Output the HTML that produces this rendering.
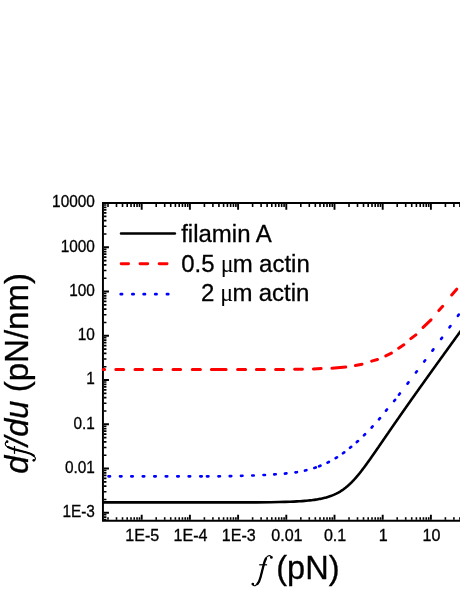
<!DOCTYPE html><html><head><meta charset="utf-8"><style>html,body{margin:0;padding:0;background:#fff}svg{display:block;will-change:transform}text{font-family:"Liberation Sans",sans-serif;fill:#000;stroke:#000;stroke-width:0.3px}.s{font-family:"Liberation Serif",serif;font-style:italic}.i{font-style:italic}</style></head><body>
<svg width="460" height="595" viewBox="0 0 460 595">
<rect width="460" height="595" fill="#fff"/>
<path d="M103.85 519.65h2.60M103.85 517.09h2.60M103.85 514.82h2.60M103.85 499.48h2.60M103.85 491.69h2.60M103.85 486.16h2.60M103.85 481.87h2.60M103.85 478.37h2.60M103.85 475.40h2.60M103.85 472.84h2.60M103.85 470.57h2.60M103.85 455.23h2.60M103.85 447.44h2.60M103.85 441.91h2.60M103.85 437.62h2.60M103.85 434.12h2.60M103.85 431.15h2.60M103.85 428.59h2.60M103.85 426.32h2.60M103.85 410.98h2.60M103.85 403.19h2.60M103.85 397.66h2.60M103.85 393.37h2.60M103.85 389.87h2.60M103.85 386.90h2.60M103.85 384.34h2.60M103.85 382.07h2.60M103.85 366.73h2.60M103.85 358.94h2.60M103.85 353.41h2.60M103.85 349.12h2.60M103.85 345.62h2.60M103.85 342.65h2.60M103.85 340.09h2.60M103.85 337.82h2.60M103.85 322.48h2.60M103.85 314.69h2.60M103.85 309.16h2.60M103.85 304.87h2.60M103.85 301.37h2.60M103.85 298.40h2.60M103.85 295.84h2.60M103.85 293.57h2.60M103.85 278.23h2.60M103.85 270.44h2.60M103.85 264.91h2.60M103.85 260.62h2.60M103.85 257.12h2.60M103.85 254.15h2.60M103.85 251.59h2.60M103.85 249.32h2.60M103.85 233.98h2.60M103.85 226.19h2.60M103.85 220.66h2.60M103.85 216.37h2.60M103.85 212.87h2.60M103.85 209.90h2.60M103.85 207.34h2.60M103.85 205.07h2.60M108.01 203.90v3.20M108.01 519.80v-2.60M116.50 203.90v3.20M116.50 519.80v-2.60M122.52 203.90v3.20M122.52 519.80v-2.60M127.19 203.90v3.20M127.19 519.80v-2.60M131.01 203.90v3.20M131.01 519.80v-2.60M134.23 203.90v3.20M134.23 519.80v-2.60M137.03 203.90v3.20M137.03 519.80v-2.60M139.49 203.90v3.20M139.49 519.80v-2.60M156.21 203.90v3.20M156.21 519.80v-2.60M164.70 203.90v3.20M164.70 519.80v-2.60M170.72 203.90v3.20M170.72 519.80v-2.60M175.39 203.90v3.20M175.39 519.80v-2.60M179.21 203.90v3.20M179.21 519.80v-2.60M182.43 203.90v3.20M182.43 519.80v-2.60M185.23 203.90v3.20M185.23 519.80v-2.60M187.69 203.90v3.20M187.69 519.80v-2.60M204.41 203.90v3.20M204.41 519.80v-2.60M212.90 203.90v3.20M212.90 519.80v-2.60M218.92 203.90v3.20M218.92 519.80v-2.60M223.59 203.90v3.20M223.59 519.80v-2.60M227.41 203.90v3.20M227.41 519.80v-2.60M230.63 203.90v3.20M230.63 519.80v-2.60M233.43 203.90v3.20M233.43 519.80v-2.60M235.89 203.90v3.20M235.89 519.80v-2.60M252.61 203.90v3.20M252.61 519.80v-2.60M261.10 203.90v3.20M261.10 519.80v-2.60M267.12 203.90v3.20M267.12 519.80v-2.60M271.79 203.90v3.20M271.79 519.80v-2.60M275.61 203.90v3.20M275.61 519.80v-2.60M278.83 203.90v3.20M278.83 519.80v-2.60M281.63 203.90v3.20M281.63 519.80v-2.60M284.09 203.90v3.20M284.09 519.80v-2.60M300.81 203.90v3.20M300.81 519.80v-2.60M309.30 203.90v3.20M309.30 519.80v-2.60M315.32 203.90v3.20M315.32 519.80v-2.60M319.99 203.90v3.20M319.99 519.80v-2.60M323.81 203.90v3.20M323.81 519.80v-2.60M327.03 203.90v3.20M327.03 519.80v-2.60M329.83 203.90v3.20M329.83 519.80v-2.60M332.29 203.90v3.20M332.29 519.80v-2.60M349.01 203.90v3.20M349.01 519.80v-2.60M357.50 203.90v3.20M357.50 519.80v-2.60M363.52 203.90v3.20M363.52 519.80v-2.60M368.19 203.90v3.20M368.19 519.80v-2.60M372.01 203.90v3.20M372.01 519.80v-2.60M375.23 203.90v3.20M375.23 519.80v-2.60M378.03 203.90v3.20M378.03 519.80v-2.60M380.49 203.90v3.20M380.49 519.80v-2.60M397.21 203.90v3.20M397.21 519.80v-2.60M405.70 203.90v3.20M405.70 519.80v-2.60M411.72 203.90v3.20M411.72 519.80v-2.60M416.39 203.90v3.20M416.39 519.80v-2.60M420.21 203.90v3.20M420.21 519.80v-2.60M423.43 203.90v3.20M423.43 519.80v-2.60M426.23 203.90v3.20M426.23 519.80v-2.60M428.69 203.90v3.20M428.69 519.80v-2.60M445.41 203.90v3.20M445.41 519.80v-2.60M453.90 203.90v3.20M453.90 519.80v-2.60M459.92 203.90v3.20M459.92 519.80v-2.60M464.59 203.90v3.20M464.59 519.80v-2.60M468.41 203.90v3.20M468.41 519.80v-2.60" stroke="#000" stroke-width="1.6" fill="none"/>
<path d="M103.85 512.80h5.10M103.85 468.55h5.10M103.85 424.30h5.10M103.85 380.05h5.10M103.85 335.80h5.10M103.85 291.55h5.10M103.85 247.30h5.10M103.85 203.05h5.10M141.70 203.90v5.95M141.70 519.80v-5.10M189.90 203.90v5.95M189.90 519.80v-5.10M238.10 203.90v5.95M238.10 519.80v-5.10M286.30 203.90v5.95M286.30 519.80v-5.10M334.50 203.90v5.95M334.50 519.80v-5.10M382.70 203.90v5.95M382.70 519.80v-5.10M430.90 203.90v5.95M430.90 519.80v-5.10" stroke="#000" stroke-width="1.9" fill="none"/>
<path d="M470 203.0H102.95V520.7H470" stroke="#000" stroke-width="1.95" fill="none" stroke-linejoin="miter"/>
<text transform="translate(94.9 207.45) scale(0.945 1)" font-size="16.3" text-anchor="end">10000</text>
<text transform="translate(94.9 251.70) scale(0.945 1)" font-size="16.3" text-anchor="end">1000</text>
<text transform="translate(94.9 295.95) scale(0.945 1)" font-size="16.3" text-anchor="end">100</text>
<text transform="translate(94.9 340.20) scale(0.945 1)" font-size="16.3" text-anchor="end">10</text>
<text transform="translate(94.9 384.45) scale(0.945 1)" font-size="16.3" text-anchor="end">1</text>
<text transform="translate(94.9 428.70) scale(0.945 1)" font-size="16.3" text-anchor="end">0.1</text>
<text transform="translate(94.9 472.95) scale(0.945 1)" font-size="16.3" text-anchor="end">0.01</text>
<text transform="translate(94.9 517.20) scale(0.945 1)" font-size="16.3" text-anchor="end">1E-3</text>
<text transform="translate(142.30 540.5) scale(1.02 1)" font-size="15.8" text-anchor="middle">1E-5</text>
<text transform="translate(190.50 540.5) scale(1.02 1)" font-size="15.8" text-anchor="middle">1E-4</text>
<text transform="translate(238.70 540.5) scale(1.02 1)" font-size="15.8" text-anchor="middle">1E-3</text>
<text transform="translate(286.90 540.5) scale(1.02 1)" font-size="15.8" text-anchor="middle">0.01</text>
<text transform="translate(335.10 540.5) scale(1.02 1)" font-size="15.8" text-anchor="middle">0.1</text>
<text transform="translate(383.30 540.5) scale(1.02 1)" font-size="15.8" text-anchor="middle">1</text>
<text transform="translate(431.50 540.5) scale(1.02 1)" font-size="15.8" text-anchor="middle">10</text>
<path d="M103 502.36L256.19 502.36L270.71 502.21L279.21 502.05L285.24 501.90L289.91 501.74L293.74 501.58L296.97 501.42L299.78 501.25L302.25 501.08L304.47 500.91L306.47 500.74L308.31 500.57L309.99 500.39L311.56 500.21L313.02 500.03L314.38 499.84L315.67 499.66L316.88 499.47L318.03 499.27L319.12 499.08L320.16 498.88L321.15 498.68L322.10 498.48L323.01 498.28L323.89 498.07L324.74 497.86L325.55 497.65L326.34 497.43L327.10 497.21L327.83 496.99L328.55 496.77L329.24 496.55L329.91 496.32L330.57 496.09L331.21 495.86L331.83 495.62L332.44 495.38L333.03 495.14L333.61 494.90L334.18 494.66L334.73 494.41L335.27 494.16L335.81 493.90L336.33 493.65L336.84 493.39L337.34 493.13L337.84 492.87L338.32 492.60L338.80 492.33L339.27 492.06L339.73 491.79L340.18 491.52L340.63 491.24L341.07 490.96L341.51 490.68L341.94 490.39L342.36 490.11L342.78 489.82L343.20 489.53L343.61 489.23L344.01 488.94L344.41 488.64L344.80 488.34L345.19 488.03L345.58 487.73L345.96 487.42L346.34 487.11L346.72 486.80L347.09 486.49L347.46 486.17L347.82 485.85L348.19 485.53L348.55 485.21L348.90 484.89L349.26 484.56L349.61 484.24L349.96 483.91L350.30 483.57L350.65 483.24L350.99 482.91L351.33 482.57L351.66 482.23L352.00 481.89L352.33 481.54L352.66 481.20L352.99 480.85L353.32 480.51L353.65 480.16L353.97 479.80L354.29 479.45L354.62 479.10L354.94 478.74L355.25 478.38L355.57 478.02L355.89 477.66L356.20 477.30L356.52 476.94L356.83 476.57L357.14 476.20L357.45 475.83L357.76 475.46L358.07 475.09L358.38 474.72L358.68 474.35L358.99 473.97L359.29 473.59L359.60 473.22L359.90 472.84L360.20 472.46L360.50 472.08L360.81 471.69L361.11 471.31L361.41 470.92L361.71 470.54L362.00 470.15L362.30 469.76L362.60 469.37L362.90 468.98L363.19 468.59L363.49 468.20L363.79 467.80L364.08 467.41L364.38 467.01L364.67 466.61L364.97 466.22L365.26 465.82L365.56 465.42L365.85 465.02L366.14 464.62L366.44 464.21L366.73 463.81L367.02 463.41L367.32 463.00L367.61 462.60L367.90 462.19L368.19 461.78L368.49 461.38L368.78 460.97L369.07 460.56L369.36 460.15L369.65 459.74L369.95 459.33L370.24 458.91L370.53 458.50L370.82 458.09L371.11 457.67L371.40 457.26L371.69 456.85L371.99 456.43L372.28 456.01L372.57 455.60L372.86 455.18L373.15 454.76L373.44 454.34L373.74 453.92L374.03 453.50L374.32 453.08L374.61 452.66L374.90 452.24L375.20 451.82L375.49 451.40L375.78 450.98L376.07 450.55L376.37 450.13L376.66 449.71L376.95 449.28L377.24 448.86L377.54 448.43L377.83 448.01L378.12 447.58L378.42 447.16L378.71 446.73L379.00 446.30L379.30 445.87L379.59 445.45L379.89 445.02L380.18 444.59L380.47 444.16L380.77 443.73L381.06 443.30L381.36 442.87L381.65 442.44L381.95 442.01L382.25 441.58L382.54 441.15L382.84 440.72L383.13 440.29L383.43 439.86L383.73 439.43L384.02 439.00L384.32 438.56L384.62 438.13L384.91 437.70L385.21 437.27L385.51 436.83L385.81 436.40L386.10 435.97L386.40 435.53L386.70 435.10L387.00 434.67L387.30 434.23L387.60 433.80L387.90 433.36L388.20 432.93L388.49 432.49L388.79 432.06L389.09 431.62L389.39 431.19L389.69 430.75L390.00 430.31L390.30 429.88L390.60 429.44L390.90 429.00L391.20 428.57L391.50 428.13L391.80 427.69L392.10 427.26L392.41 426.82L392.71 426.38L393.01 425.95L393.31 425.51L393.62 425.07L393.92 424.63L394.22 424.20L394.53 423.76L394.83 423.32L395.13 422.88L395.44 422.44L395.74 422.01L396.05 421.57L396.35 421.13L396.66 420.69L396.96 420.25L397.27 419.81L397.57 419.37L397.88 418.93L398.18 418.49L398.49 418.06L398.79 417.62L399.10 417.18L399.41 416.74L399.71 416.30L400.02 415.86L400.33 415.42L400.63 414.98L400.94 414.54L401.25 414.10L401.55 413.66L401.86 413.22L402.17 412.78L402.48 412.34L402.79 411.90L403.09 411.46L403.40 411.02L403.71 410.58L404.02 410.14L404.33 409.70L404.64 409.26L404.95 408.82L405.26 408.37L405.57 407.93L405.88 407.49L406.19 407.05L406.50 406.61L406.81 406.17L407.12 405.73L407.43 405.29L407.74 404.85L408.05 404.41L408.36 403.97L408.67 403.52L408.98 403.08L409.29 402.64L409.60 402.20L409.91 401.76L410.22 401.32L410.54 400.88L410.85 400.44L411.16 399.99L411.47 399.55L411.78 399.11L412.10 398.67L412.41 398.23L412.72 397.79L413.03 397.34L413.35 396.90L413.66 396.46L413.97 396.02L414.29 395.58L414.60 395.14L414.91 394.69L415.23 394.25L415.54 393.81L415.85 393.37L416.17 392.93L416.48 392.48L416.79 392.04L417.11 391.60L417.42 391.16L417.74 390.72L418.05 390.27L418.37 389.83L418.68 389.39L419.00 388.95L419.31 388.51L419.62 388.06L419.94 387.62L420.25 387.18L420.57 386.74L420.89 386.30L421.20 385.85L421.52 385.41L421.83 384.97L422.15 384.53L422.46 384.08L422.78 383.64L423.09 383.20L423.41 382.76L423.73 382.32L424.04 381.87L424.36 381.43L424.67 380.99L424.99 380.55L425.31 380.10L425.62 379.66L425.94 379.22L426.26 378.78L426.57 378.33L426.89 377.89L427.21 377.45L427.52 377.01L427.84 376.56L428.16 376.12L428.47 375.68L428.79 375.24L429.11 374.79L429.43 374.35L429.74 373.91L430.06 373.47L430.38 373.02L430.69 372.58L431.01 372.14L431.33 371.70L431.65 371.25L431.97 370.81L432.28 370.37L432.60 369.93L432.92 369.48L433.24 369.04L433.55 368.60L433.87 368.16L434.19 367.71L434.51 367.27L434.83 366.83L435.15 366.38L435.46 365.94L435.78 365.50L436.10 365.06L436.42 364.61L436.74 364.17L437.06 363.73L437.37 363.29L437.69 362.84L438.01 362.40L438.33 361.96L438.65 361.52L438.97 361.07L439.29 360.63L439.61 360.19L439.92 359.74L440.24 359.30L440.56 358.86L440.88 358.42L441.20 357.97L441.52 357.53L441.84 357.09L442.16 356.65L442.48 356.20L442.80 355.76L443.12 355.32L443.43 354.87L443.75 354.43L444.07 353.99L444.39 353.55L444.71 353.10L445.03 352.66L445.35 352.22L445.67 351.78L445.99 351.33L446.31 350.89L446.63 350.45L446.95 350.00L447.27 349.56L447.59 349.12L447.91 348.68L448.23 348.23L448.55 347.79L448.87 347.35L449.19 346.90L449.51 346.46L449.83 346.02L450.15 345.58L450.47 345.13L450.79 344.69L451.11 344.25L451.43 343.80L451.75 343.36L452.07 342.92L452.39 342.48L452.71 342.03L453.03 341.59L453.35 341.15L453.67 340.71L453.99 340.26L454.31 339.82L454.63 339.38L454.95 338.93L455.27 338.49L455.59 338.05L455.91 337.61L456.23 337.16L456.55 336.72L456.87 336.28L457.19 335.83L457.51 335.39L457.84 334.95L458.16 334.51L458.48 334.06L458.80 333.62L459.12 333.18L459.44 332.73L459.76 332.29L460.08 331.85L460.40 331.41L460.72 330.96L461.04 330.52L461.36 330.08L461.68 329.63L462.00 329.19L462.32 328.75L462.65 328.31L462.97 327.86L463.29 327.42L463.61 326.98L463.93 326.53L464.25 326.09L464.57 325.65L464.89 325.21L465.21 324.76L465.53 324.32L465.85 323.88L466.17 323.43L466.50 322.99L466.82 322.55L467.14 322.11L467.46 321.66L467.78 321.22L468.10 320.78L468.42 320.33L468.74 319.89L469.06 319.45L469.38 319.01L469.71 318.56L470.03 318.12L470.35 317.68L470.67 317.23L470.99 316.79L471.31 316.35L471.63 315.90L471.95 315.46L472.27 315.02L472.60 314.58L472.92 314.13L473.24 313.69L473.56 313.25L473.88 312.80L474.20 312.36L474.52 311.92L474.84 311.48" stroke="#000" stroke-width="2.6" fill="none" stroke-linejoin="round"/>
<path d="M103.20 369.40L104.60 369.40M115.80 369.40L123.60 369.40M135.00 369.40L142.60 369.40M154.00 369.40L161.60 369.40M173.00 369.40L180.60 369.40M192.30 369.40L200.40 369.40M211.40 369.40L226.10 369.40M237.60 369.40L245.60 369.40M256.40 369.40L264.40 369.40M275.60 369.40L283.60 369.40M294.60 369.30L302.40 369.20M313.40 368.90L321.10 368.60M331.90 368.15L345.70 367.05M355.40 365.40L362.00 364.20M371.65 361.10L377.45 359.50M385.76 355.88L391.44 353.12M398.66 348.22L403.84 344.78M410.82 338.66L415.88 334.84M423.10 327.40L431.00 319.80M438.83 310.55L442.67 306.25M451.70 295.03L456.70 289.17" stroke="#f00" stroke-width="3.0" fill="none" stroke-linecap="round"/>
<path d="M108.50 476.30L110.00 476.30M120.00 476.30L121.50 476.30M131.25 476.30L132.75 476.30M142.75 476.30L144.25 476.30M154.25 476.30L155.75 476.30M165.75 476.30L167.25 476.30M177.25 476.30L178.75 476.30M188.65 476.30L190.15 476.30M200.25 476.30L201.75 476.30M206.95 476.30L208.45 476.30M218.45 476.31L219.95 476.29M229.75 476.12L231.25 476.08M241.00 475.82L242.50 475.78M252.25 475.53L253.75 475.47M263.50 475.04L265.00 474.96M274.25 474.35L275.75 474.25M284.95 473.57L286.45 473.43M295.46 472.41L296.94 472.19M304.97 470.58L306.43 470.22M314.28 467.92L315.72 467.48M319.11 466.28L320.49 465.72M327.53 462.64L328.87 461.96M335.66 458.09L336.94 457.31M342.99 453.24L344.21 452.36M350.02 447.77L351.18 446.83M356.84 442.10L357.96 441.10M363.97 435.33L365.03 434.27M371.59 427.55L372.61 426.45M379.01 419.37L379.99 418.23M386.02 410.68L386.98 409.52M394.13 400.98L395.07 399.82M398.94 394.69L399.86 393.51M407.54 383.60L408.46 382.40M415.95 372.50L416.85 371.30M424.25 361.50L425.15 360.30M432.45 350.60L433.35 349.40M441.16 338.90L442.04 337.70M449.56 327.31L450.44 326.09M457.96 315.81L458.84 314.59" stroke="#00f" stroke-width="2.65" fill="none" stroke-linecap="round"/>
<path d="M121.0 233.55H174.9" stroke="#000" stroke-width="2.5" stroke-linecap="round"/>
<path d="M121.1 263.75H128.6M140.0 263.75H147.8M159.1 263.75H167.1" stroke="#f00" stroke-width="2.8" stroke-linecap="round"/>
<path d="M120.70 294.15h1.4M132.30 294.15h1.4M143.60 294.15h1.4M155.20 294.15h1.4M166.90 294.15h1.4" stroke="#00f" stroke-width="2.65" stroke-linecap="round"/>
<text transform="translate(181.2 241.5) scale(0.968 1)" font-size="24.8">filamin A</text>
<text transform="translate(181.2 271.9) scale(0.968 1)" font-size="24.8">0.5 <tspan font-family="Liberation Serif" font-size="24.8" dx="-0.6" stroke="none">μ</tspan><tspan dx="-0.8">m</tspan><tspan dx="-0.3"> </tspan>actin</text>
<text transform="translate(200.9 301.3) scale(0.968 1)" font-size="24.8">2 <tspan font-family="Liberation Serif" font-size="24.8" dx="-0.6" stroke="none">μ</tspan><tspan dx="-0.8">m</tspan><tspan dx="-0.3"> </tspan>actin</text>
<text transform="translate(28 473.8) rotate(-90)" font-size="32.5" class="i">d</text>
<text transform="translate(28 445.9) rotate(-90)" font-size="32.5" class="i">/du</text>
<text transform="translate(28 392.3) rotate(-90) scale(1.017 1)" font-size="32.5">(pN/nm)</text>
<g transform="translate(29.3 453.3) rotate(-90)"><path d="M11.5 -22.4C11.0 -24.4 8.6 -24.7 7.0 -22.6C5.4 -20.4 4.6 -17.4 3.9 -14.8L0.8 -2.6C-0.2 1.4 -2.2 5.0 -4.6 6.0C-5.7 6.4 -6.8 5.8 -6.9 4.6" stroke="#000" stroke-width="1.15" fill="none" stroke-linecap="round"/><path d="M6.2 -21.2C5.2 -19.4 4.5 -17.2 3.9 -14.8L0.8 -2.6C0.1 0.2 -1.0 2.8 -2.4 4.4" stroke="#000" stroke-width="2.3" fill="none" stroke-linecap="round"/><path d="M-0.6 -14.8H7.3" stroke="#000" stroke-width="1.2" fill="none"/><circle cx="11.6" cy="-22.2" r="1.35"/><circle cx="-7.0" cy="4.5" r="1.35"/></g>
<g transform="translate(259.8 579.6)"><path d="M11.5 -22.4C11.0 -24.4 8.6 -24.7 7.0 -22.6C5.4 -20.4 4.6 -17.4 3.9 -14.8L0.8 -2.6C-0.2 1.4 -2.2 5.0 -4.6 6.0C-5.7 6.4 -6.8 5.8 -6.9 4.6" stroke="#000" stroke-width="1.15" fill="none" stroke-linecap="round"/><path d="M6.2 -21.2C5.2 -19.4 4.5 -17.2 3.9 -14.8L0.8 -2.6C0.1 0.2 -1.0 2.8 -2.4 4.4" stroke="#000" stroke-width="2.3" fill="none" stroke-linecap="round"/><path d="M-0.6 -14.8H7.3" stroke="#000" stroke-width="1.2" fill="none"/><circle cx="11.6" cy="-22.2" r="1.35"/><circle cx="-7.0" cy="4.5" r="1.35"/></g>
<text x="276.3" y="578.8" font-size="32.5">(pN)</text>
</svg></body></html>
